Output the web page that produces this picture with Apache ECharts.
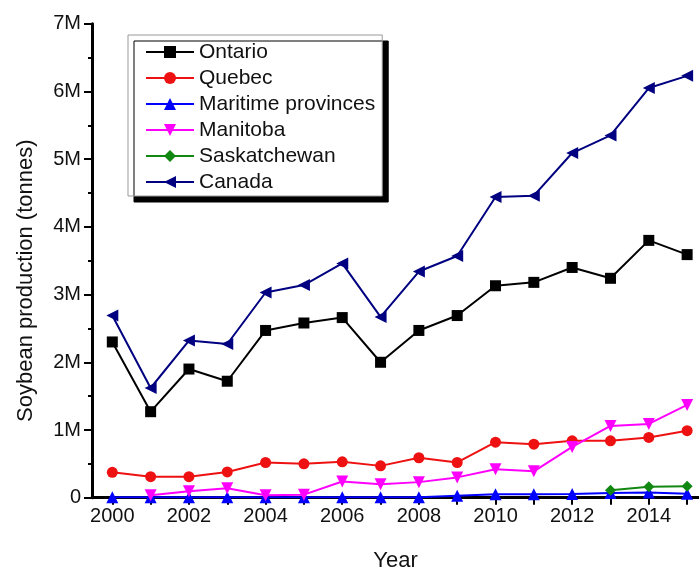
<!DOCTYPE html>
<html>
<head>
<meta charset="utf-8">
<script src="https://cdn.jsdelivr.net/npm/echarts@6/dist/echarts.min.js"></script>
<style>
  html, body { margin: 0; padding: 0; background: #fff; }
  #chart { width: 699px; height: 567px; }
</style>
</head>
<body>
<div id="chart"></div>
<script>
// values in millions of tonnes
const years = [2000, 2001, 2002, 2003, 2004, 2005, 2006, 2007, 2008, 2009, 2010, 2011, 2012, 2013, 2014, 2015]
const ontario = [2.30, 1.27, 1.90, 1.72, 2.47, 2.58, 2.66, 2.00, 2.47, 2.69, 3.13, 3.18, 3.40, 3.24, 3.80, 3.59]
const quebec = [0.375, 0.31, 0.31, 0.38, 0.52, 0.50, 0.53, 0.47, 0.59, 0.52, 0.82, 0.79, 0.84, 0.84, 0.89, 0.99]
const maritime = [0.005, 0.005, 0.005, 0.005, 0.005, 0.005, 0.005, 0.005, 0.005, 0.03, 0.05, 0.05, 0.055, 0.07, 0.075, 0.06]
const manitobaYears = [2001, 2002, 2003, 2004, 2005, 2006, 2007, 2008, 2009, 2010, 2011, 2012, 2013, 2014, 2015]
const manitoba = [0.035, 0.095, 0.14, 0.035, 0.045, 0.24, 0.20, 0.23, 0.30, 0.42, 0.39, 0.75, 1.06, 1.09, 1.37]
const saskYears = [2013, 2014, 2015]
const saskatchewan = [0.11, 0.16, 0.17]
const canada = [2.69, 1.62, 2.32, 2.27, 3.03, 3.14, 3.46, 2.67, 3.34, 3.57, 4.44, 4.46, 5.09, 5.35, 6.05, 6.23]
const yearLabels = [2000, 2002, 2004, 2006, 2008, 2010, 2012, 2014]

const pairs = (xs, ys) => xs.map((x, i) => [x, ys[i] * 1e6])

const font = 'Liberation Sans, Arial, sans-serif'
const mkSeries = (name, data, color, symbol, rotate) => ({
    name,
    type: 'line',
    data,
    symbol,
    symbolSize: symbol === 'triangle' ? 12 : 11,
    symbolRotate: rotate || 0,
    lineStyle: { color, width: 2 },
    itemStyle: { color },
    animation: false,
})

const myChart = echarts.init(document.getElementById('chart'))
const option = {
    textStyle: { fontFamily: font },
    grid: { left: 92, right: 0, top: 23.7, bottom: 69.3, containLabel: false, outerBoundsMode: 'none' },
    legend: {
        orient: 'vertical',
        left: 128,
        top: 35,
        padding: [5, 7, 2, 17],
        itemWidth: 48,
        itemHeight: 15,
        itemGap: 2,
        backgroundColor: '#fff',
        borderColor: '#999',
        borderWidth: 1,
        borderRadius: 0,
        shadowColor: '#000',
        shadowBlur: 0,
        shadowOffsetX: 6,
        shadowOffsetY: 6,
        textStyle: { fontSize: 21, lineHeight: 24, color: '#111', fontFamily: font },
        data: ['Ontario', 'Quebec', 'Maritime provinces', 'Manitoba', 'Saskatchewan', 'Canada'],
    },
    xAxis: {
        type: 'value',
        min: 1999.47,
        max: 2015.31,
        name: 'Year',
        nameLocation: 'middle',
        nameGap: 52,
        nameTextStyle: { fontSize: 22, color: '#111', fontFamily: font },
        splitLine: { show: false },
        axisLine: { lineStyle: { color: '#000', width: 3 } },
        axisTick: { show: true, length: 7, lineStyle: { color: '#000', width: 2 }, customValues: years },
        axisLabel: {
            fontSize: 20, color: '#111', margin: 9, fontFamily: font,
            customValues: yearLabels,
            formatter: v => String(v),
        },
    },
    yAxis: {
        type: 'value',
        min: 0,
        max: 7e6,
        interval: 1e6,
        name: 'Soybean production (tonnes)',
        nameLocation: 'middle',
        nameGap: 55,
        nameTextStyle: { fontSize: 22, color: '#111', fontFamily: font, padding: [0, 40, 0, 0] },
        splitLine: { show: false },
        axisLine: { show: true, lineStyle: { color: '#000', width: 3 } },
        axisTick: { show: true, length: 8, lineStyle: { color: '#000', width: 2 } },
        minorTick: { show: true, splitNumber: 2, length: 4, lineStyle: { color: '#000', width: 2 } },
        axisLabel: {
            fontSize: 20, color: '#111', margin: 11, fontFamily: font,
            formatter: v => v === 0 ? '0' : (v / 1e6) + 'M',
        },
    },
    series: [
        mkSeries('Ontario', pairs(years, ontario), '#000000', 'rect'),
        mkSeries('Quebec', pairs(years, quebec), '#ee1111', 'circle'),
        mkSeries('Maritime provinces', pairs(years, maritime), '#0000ff', 'triangle'),
        mkSeries('Manitoba', pairs(manitobaYears, manitoba), '#ff00ff', 'triangle', 180),
        mkSeries('Saskatchewan', pairs(saskYears, saskatchewan), '#118811', 'diamond'),
        mkSeries('Canada', pairs(years, canada), '#000080', 'triangle', 90),
    ],
}

option && myChart.setOption(option)
</script>
</body>
</html>
